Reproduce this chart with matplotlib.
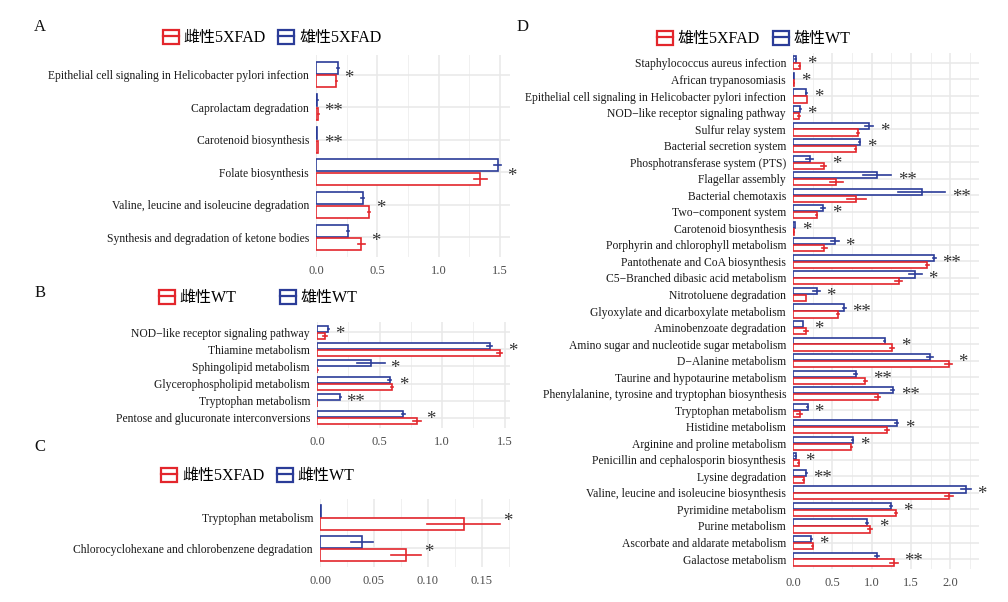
import matplotlib
matplotlib.use('Agg')
import matplotlib.pyplot as plt
import numpy as np
from matplotlib.patches import Rectangle
from matplotlib.lines import Line2D
from matplotlib.legend_handler import HandlerTuple

plt.rcParams['font.family'] = ['Liberation Serif', 'Noto Sans CJK SC', 'DejaVu Sans']

RED = '#e3262c'
BLUE = '#2b3c98'
W, H = 1008, 602

# ---- Panel A data ----
a_labels = ["Epithelial cell signaling in Helicobacter pylori infection",
            "Caprolactam degradation",
            "Carotenoid biosynthesis",
            "Folate biosynthesis",
            "Valine, leucine and isoleucine degradation",
            "Synthesis and degradation of ketone bodies"]
a_blue = [0.18, 0.012, 0.01, 1.48, 0.38, 0.26]
a_blue_err = [0.005, 0.001, 0.001, 0.03, 0.01, 0.01]
a_red = [0.165, 0.02, 0.018, 1.34, 0.43, 0.37]
a_red_err = [0.005, 0.002, 0.002, 0.05, 0.01, 0.03]
a_sig = ['*', '**', '**', '*', '*', '*']
a_legend = ['雌性5XFAD', '雄性5XFAD']
a_ticks = [0.0, 0.5, 1.0, 1.5]

# ---- Panel B data ----
b_labels = ["NOD\u2212like receptor signaling pathway",
            "Thiamine metabolism",
            "Sphingolipid metabolism",
            "Glycerophospholipid metabolism",
            "Tryptophan metabolism",
            "Pentose and glucuronate interconversions"]
b_blue = [0.09, 1.38, 0.43, 0.58, 0.185, 0.69]
b_blue_err = [0.005, 0.02, 0.11, 0.01, 0.005, 0.01]
b_red = [0.065, 1.46, 0.003, 0.60, 0.002, 0.80]
b_red_err = [0.015, 0.02, 0.001, 0.01, 0.001, 0.03]
b_sig = ['*', '*', '*', '*', '**', '*']
b_legend = ['雌性WT', '雄性WT']
b_ticks = [0.0, 0.5, 1.0, 1.5]

# ---- Panel C data ----
c_labels = ["Tryptophan metabolism",
            "Chlorocyclohexane and chlorobenzene degradation"]
c_blue = [0.001, 0.039]
c_blue_err = [0.0003, 0.01]
c_red = [0.133, 0.080]
c_red_err = [0.034, 0.014]
c_sig = ['*', '*']
c_legend = ['雌性5XFAD', '雌性WT']
c_ticks = [0.0, 0.05, 0.10, 0.15]

# ---- Panel D data ----
d_labels = ["Staphylococcus aureus infection",
            "African trypanosomiasis",
            "Epithelial cell signaling in Helicobacter pylori infection",
            "NOD\u2212like receptor signaling pathway",
            "Sulfur relay system",
            "Bacterial secretion system",
            "Phosphotransferase system (PTS)",
            "Flagellar assembly",
            "Bacterial chemotaxis",
            "Two\u2212component system",
            "Carotenoid biosynthesis",
            "Porphyrin and chlorophyll metabolism",
            "Pantothenate and CoA biosynthesis",
            "C5\u2212Branched dibasic acid metabolism",
            "Nitrotoluene degradation",
            "Glyoxylate and dicarboxylate metabolism",
            "Aminobenzoate degradation",
            "Amino sugar and nucleotide sugar metabolism",
            "D\u2212Alanine metabolism",
            "Taurine and hypotaurine metabolism",
            "Phenylalanine, tyrosine and tryptophan biosynthesis",
            "Tryptophan metabolism",
            "Histidine metabolism",
            "Arginine and proline metabolism",
            "Penicillin and cephalosporin biosynthesis",
            "Lysine degradation",
            "Valine, leucine and isoleucine biosynthesis",
            "Pyrimidine metabolism",
            "Purine metabolism",
            "Ascorbate and aldarate metabolism",
            "Galactose metabolism"]
d_blue = [0.034, 0.017, 0.17, 0.093, 0.97, 0.847, 0.21, 1.07, 1.64, 0.38,
          0.025, 0.53, 1.80, 1.555, 0.30, 0.65, 0.127, 1.165, 1.74, 0.80,
          1.27, 0.186, 1.32, 0.76, 0.034, 0.17, 2.20, 1.25, 0.94, 0.233, 1.07]
d_blue_err = [0.005, 0.002, 0.005, 0.005, 0.05, 0.01, 0.04, 0.18, 0.30, 0.03,
              0.003, 0.05, 0.02, 0.085, 0.04, 0.02, 0.005, 0.01, 0.04, 0.02,
              0.02, 0.005, 0.02, 0.005, 0.003, 0.005, 0.06, 0.01, 0.01, 0.005, 0.03]
d_red = [0.085, 0.008, 0.178, 0.072, 0.826, 0.80, 0.39, 0.55, 0.805, 0.30,
         0.008, 0.40, 1.71, 1.343, 0.165, 0.57, 0.165, 1.26, 1.98, 0.92,
         1.076, 0.085, 1.195, 0.74, 0.072, 0.135, 1.99, 1.31, 0.98, 0.25, 1.28]
d_red_err = [0.01, 0.002, 0.005, 0.012, 0.01, 0.005, 0.03, 0.08, 0.12, 0.01,
             0.002, 0.03, 0.02, 0.04, 0.005, 0.01, 0.02, 0.03, 0.04, 0.02,
             0.03, 0.03, 0.03, 0.005, 0.005, 0.005, 0.05, 0.01, 0.03, 0.005, 0.05]
d_sig = ['*', '*', '*', '*', '*', '*', '*', '**', '**', '*',
         '*', '*', '**', '*', '*', '**', '*', '*', '*', '**',
         '**', '*', '*', '*', '*', '**', '*', '*', '*', '*', '**']
d_legend = ['雄性5XFAD', '雄性WT']
d_ticks = [0.0, 0.5, 1.0, 1.5, 2.0]


def px_axes(fig, left, right, top, bottom):
    return fig.add_axes([left / W, 1 - bottom / H, (right - left) / W, (bottom - top) / H])


def draw_panel(ax, labels, blue, blue_err, red, red_err, sig, ticks, xmax, fmt, star_pad):
    n = len(labels)
    y = np.arange(n)
    h = 0.37
    off = 0.21
    # grid lines: major at ticks, minor half way, one per category
    for t in ticks:
        ax.axvline(t, color='#e8e8e8', lw=1.1, zorder=0)
    minor = [(ticks[i] + ticks[i + 1]) / 2 for i in range(len(ticks) - 1)]
    minor.append(ticks[-1] + (ticks[1] - ticks[0]) / 2)
    for t in minor:
        ax.axvline(t, color='#f0f0f0', lw=0.7, zorder=0)
    for yy in y:
        ax.axhline(yy, color='#e8e8e8', lw=1.1, zorder=0)
    ax.barh(y - off, blue, height=h, facecolor='white', edgecolor=BLUE, lw=1.2, zorder=2)
    ax.barh(y + off, red, height=h, facecolor='white', edgecolor=RED, lw=1.2, zorder=2)
    for i in range(n):
        ax.plot([blue[i] - blue_err[i], blue[i] + blue_err[i]], [y[i] - off] * 2,
                color=BLUE, lw=1.2, zorder=3)
        ax.plot([red[i] - red_err[i], red[i] + red_err[i]], [y[i] + off] * 2,
                color=RED, lw=1.2, zorder=3)
        top = max(blue[i] + blue_err[i], red[i] + red_err[i])
        ax.text(top + star_pad * xmax, y[i] + 0.12, sig[i], ha='left', va='center',
                fontsize=13.5, color='#333333', zorder=4)
    ax.set_ylim(n - 0.4, -0.6)
    ax.set_xlim(0, xmax)
    ax.set_yticks(y)
    ax.set_yticklabels(labels, fontsize=8.4, color='#1a1a1a')
    ax.set_xticks(ticks)
    ax.set_xticklabels([fmt.format(t) for t in ticks], fontsize=9, color='#4d4d4d')
    ax.tick_params(length=0, pad=5)
    ax.tick_params(axis='x', pad=6)
    for s in ax.spines.values():
        s.set_visible(False)
    ax.set_facecolor('none')


def add_legend(fig, names, cx, cy, spacing):
    handles = []
    for col in [RED, BLUE]:
        box = Rectangle((0, 0), 1, 1, facecolor='white', edgecolor=col, lw=1.6)
        line = Line2D([0, 1], [0, 0], color=col, lw=1.6)
        handles.append((box, line))
    fig.legend(handles, names, loc='center', bbox_to_anchor=(cx / W, 1 - cy / H),
               ncol=2, frameon=False, fontsize=11.5, handlelength=1.0, handleheight=1.0,
               handletextpad=0.3, columnspacing=spacing,
               handler_map={tuple: HandlerTuple(ndivide=1)})


fig = plt.figure(figsize=(W / 100, H / 100), dpi=100)
fig.patch.set_facecolor('white')

axA = px_axes(fig, 316, 510, 55, 257)
draw_panel(axA, a_labels, a_blue, a_blue_err, a_red, a_red_err, a_sig, a_ticks,
           1.581, '{:.1f}', 0.03)
axB = px_axes(fig, 317, 510, 322, 428)
draw_panel(axB, b_labels, b_blue, b_blue_err, b_red, b_red_err, b_sig, b_ticks,
           1.544, '{:.1f}', 0.03)
axC = px_axes(fig, 320, 510, 499, 567)
draw_panel(axC, c_labels, c_blue, c_blue_err, c_red, c_red_err, c_sig, c_ticks,
           0.176, '{:.2f}', 0.015)
axD = px_axes(fig, 793, 979, 53, 569)
draw_panel(axD, d_labels, d_blue, d_blue_err, d_red, d_red_err, d_sig, d_ticks,
           2.367, '{:.1f}', 0.035)

add_legend(fig, a_legend, 272, 38, 0.8)
add_legend(fig, b_legend, 258, 298, 2.7)
add_legend(fig, c_legend, 258, 476, 0.8)
add_legend(fig, d_legend, 754, 39, 0.8)

for letter, x, y in [('A', 40, 27), ('B', 40, 293), ('C', 40, 447), ('D', 523, 27)]:
    fig.text(x / W, 1 - y / H, letter, fontsize=12, ha='center', va='center', color='#111111')

fig.savefig('out.png', dpi=100, facecolor='white')
